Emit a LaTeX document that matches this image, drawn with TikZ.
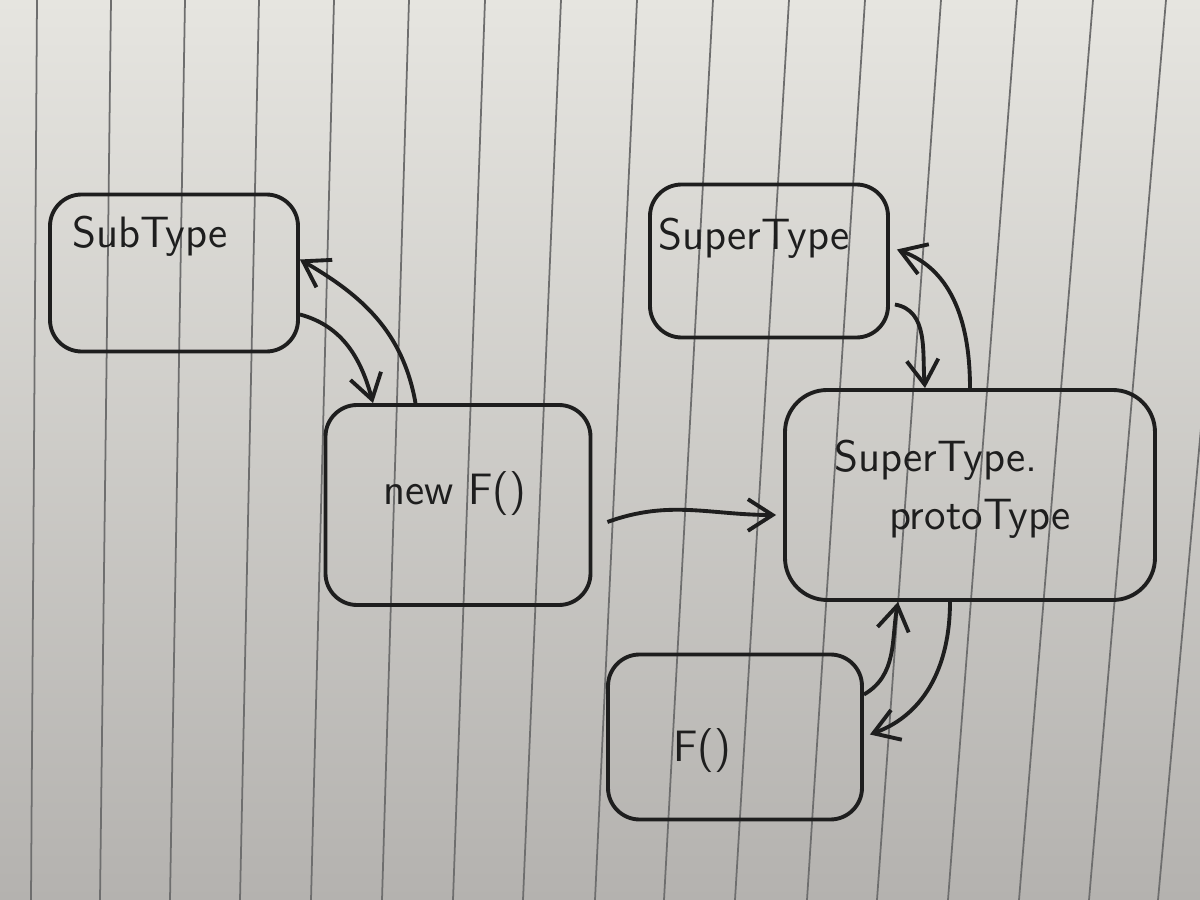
\documentclass[tikz,border=0pt]{standalone}
\usepackage{tikz}
\usetikzlibrary{arrows.meta,positioning,calc}
\usepackage{xcolor}
\definecolor{ink}{HTML}{1E1E1E}
\definecolor{papertop}{HTML}{E6E5E0}
\definecolor{paperbot}{HTML}{B4B2AF}
\definecolor{rule}{HTML}{6E6E6E}
\tikzset{
  box/.style={draw=ink, rounded corners=9pt, line width=1.1pt, inner sep=0pt},
  ar/.style={-{Straight Barb[length=7pt,width=9pt]}, line width=1.1pt, draw=ink},
  lbl/.style={font=\sffamily\fontsize{12.5}{15}\selectfont, color=ink, anchor=base, inner sep=0pt},
  ruling/.style={draw=rule, line width=0.5pt}
}

\begin{document}
\begin{tikzpicture}[x=1cm,y=1cm]
  % paper
  \shade[top color=papertop, bottom color=paperbot] (0,0) rectangle (12,9);
  \useasboundingbox (0,0) rectangle (12,9);
  \begin{scope}
    \clip (0,0) rectangle (12,9);
    \foreach \t/\b in {0.37/0.31,1.11/1.00,1.85/1.70,2.59/2.40,3.34/3.11,4.09/3.82,
                       4.85/4.53,5.61/5.23,6.37/5.95,7.13/6.64,7.89/7.35,8.65/8.07,
                       9.41/8.77,10.17/9.48,10.93/10.19,11.66/10.89,12.40/11.58}
      \draw[ruling] (\t,9) -- (\b,0);
  \end{scope}

  % boxes
  \node[box, minimum width=2.48cm, minimum height=1.57cm] (subtype) at (1.74,6.27) {};
  \node[box, minimum width=2.65cm, minimum height=2.00cm] (newf) at (4.58,3.95) {};
  \node[box, minimum width=2.38cm, minimum height=1.53cm] (supertype) at (7.69,6.39) {};
  \node[box, minimum width=3.70cm, minimum height=2.10cm, rounded corners=12pt] (proto) at (9.70,4.05) {};
  \node[box, minimum width=2.54cm, minimum height=1.65cm] (fcall) at (7.35,1.63) {};

  % texts
  \node[lbl] (subtypeText) at (1.50,6.52) {SubType};
  \node[lbl] (newfText) at (4.55,3.95) {new F()};
  \node[lbl] (supertypeText) at (7.54,6.50) {SuperType};
  \node[lbl] (protoTextA) at (9.36,4.28) {SuperType.};
  \node[lbl] (protoTextB) at (9.80,3.70) {protoType};
  \node[lbl] (fcallText) at (7.02,1.38) {F()};

  % connectors
  \draw[ar] ([xshift=-4.25mm]newf.north) to[out=100, in=-30] ([yshift=1.35mm]subtype.east);
  \draw[ar] ([yshift=-4.15mm]subtype.east) to[out=-15, in=105] ([xshift=-8.5mm]newf.north);
  \draw[ar] ([xshift=1.5mm,yshift=-1.7mm]newf.east) to[out=20, in=180] ([xshift=-0.7mm,yshift=-2mm]proto.west);
  \draw[ar] (proto.north) to[out=90, in=-20] ([xshift=0.7mm,yshift=1.15mm]supertype.east);
  \draw[ar] ([xshift=0.5mm,yshift=-4.35mm]supertype.east) to[out=-10, in=95] ([xshift=-4.5mm]proto.north);
  \draw[ar] ([yshift=4.25mm]fcall.east) to[out=30, in=-100] ([xshift=-7.2mm]proto.south);
  \draw[ar] ([xshift=-2mm]proto.south) to[out=-90, in=20] ([xshift=0.6mm,yshift=0.25mm]fcall.east);
\end{tikzpicture}
\end{document}
